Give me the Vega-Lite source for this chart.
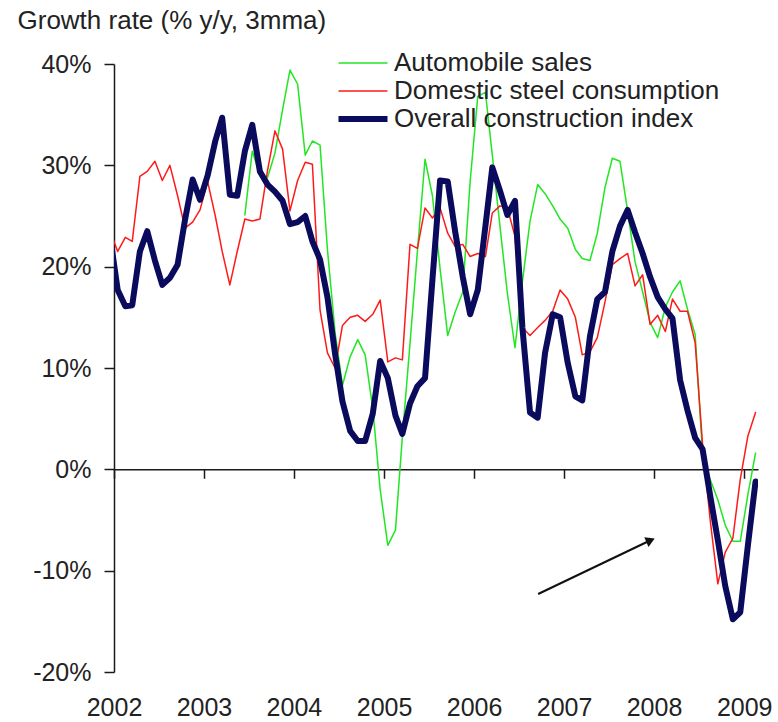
{
  "$schema": "https://vega.github.io/schema/vega-lite/v6.json",
  "width": 644,
  "height": 608,
  "autosize": {"type": "none"},
  "padding": {"left": 114, "top": 64, "right": 20, "bottom": 50},
  "background": "white",
  "config": {
    "view": {"stroke": null},
    "font": "Liberation Sans",
    "axis": {"domainColor": "#1a1a1a", "tickColor": "#1a1a1a", "labelColor": "#222222", "grid": false, "domainWidth": 1.5, "tickWidth": 1.5, "labelFont": "Liberation Sans", "titleFont": "Liberation Sans"},
    "legend": {"labelFont": "Liberation Sans"}
  },
  "datasets": {
    "series": [
      {"date": "2001-12-16", "Domestic steel consumption": 23.5, "Overall construction index": 23},
      {"date": "2002-01-16", "Domestic steel consumption": 21.5, "Overall construction index": 17.7},
      {"date": "2002-02-16", "Domestic steel consumption": 22.9, "Overall construction index": 16.1},
      {"date": "2002-03-16", "Domestic steel consumption": 22.5, "Overall construction index": 16.2},
      {"date": "2002-04-16", "Domestic steel consumption": 28.9, "Overall construction index": 21.5},
      {"date": "2002-05-16", "Domestic steel consumption": 29.4, "Overall construction index": 23.5},
      {"date": "2002-06-16", "Domestic steel consumption": 30.4, "Overall construction index": 20.6},
      {"date": "2002-07-16", "Domestic steel consumption": 28.5, "Overall construction index": 18.2},
      {"date": "2002-08-16", "Domestic steel consumption": 30.0, "Overall construction index": 18.9},
      {"date": "2002-09-16", "Domestic steel consumption": 27.0, "Overall construction index": 20.2},
      {"date": "2002-10-16", "Domestic steel consumption": 23.8, "Overall construction index": 24.6},
      {"date": "2002-11-16", "Domestic steel consumption": 24.4, "Overall construction index": 28.6},
      {"date": "2002-12-16", "Domestic steel consumption": 25.6, "Overall construction index": 26.6},
      {"date": "2003-01-16", "Domestic steel consumption": 28.4, "Overall construction index": 29.0},
      {"date": "2003-02-16", "Domestic steel consumption": 25.0, "Overall construction index": 32.4},
      {"date": "2003-03-16", "Domestic steel consumption": 21.5, "Overall construction index": 34.7},
      {"date": "2003-04-16", "Domestic steel consumption": 18.2, "Overall construction index": 27.1},
      {"date": "2003-05-16", "Domestic steel consumption": 21.5, "Overall construction index": 27.0},
      {"date": "2003-06-16", "Automobile sales": 25.1, "Domestic steel consumption": 24.7, "Overall construction index": 31.4},
      {"date": "2003-07-16", "Automobile sales": 31.4, "Domestic steel consumption": 24.5, "Overall construction index": 34.0},
      {"date": "2003-08-16", "Automobile sales": 29.0, "Domestic steel consumption": 24.7, "Overall construction index": 29.4},
      {"date": "2003-09-16", "Automobile sales": 28.8, "Domestic steel consumption": 29.5, "Overall construction index": 28.1},
      {"date": "2003-10-16", "Automobile sales": 31.2, "Domestic steel consumption": 33.4, "Overall construction index": 27.4},
      {"date": "2003-11-16", "Automobile sales": 35.5, "Domestic steel consumption": 31.6, "Overall construction index": 26.5},
      {"date": "2003-12-16", "Automobile sales": 39.4, "Domestic steel consumption": 25.5, "Overall construction index": 24.2},
      {"date": "2004-01-16", "Automobile sales": 38.0, "Domestic steel consumption": 28.5, "Overall construction index": 24.4},
      {"date": "2004-02-16", "Automobile sales": 31.0, "Domestic steel consumption": 30.3, "Overall construction index": 25.0},
      {"date": "2004-03-16", "Automobile sales": 32.4, "Domestic steel consumption": 30.1, "Overall construction index": 22.5},
      {"date": "2004-04-16", "Automobile sales": 32.0, "Domestic steel consumption": 15.7, "Overall construction index": 20.7},
      {"date": "2004-05-16", "Automobile sales": 21.7, "Domestic steel consumption": 11.5, "Overall construction index": 17.0},
      {"date": "2004-06-16", "Automobile sales": 13.5, "Domestic steel consumption": 10.0, "Overall construction index": 11.4},
      {"date": "2004-07-16", "Automobile sales": 8.3, "Domestic steel consumption": 14.2, "Overall construction index": 6.7},
      {"date": "2004-08-16", "Automobile sales": 11.1, "Domestic steel consumption": 15.0, "Overall construction index": 3.8},
      {"date": "2004-09-16", "Automobile sales": 12.8, "Domestic steel consumption": 15.2, "Overall construction index": 2.8},
      {"date": "2004-10-16", "Automobile sales": 11.3, "Domestic steel consumption": 14.6, "Overall construction index": 2.8},
      {"date": "2004-11-16", "Automobile sales": 6.0, "Domestic steel consumption": 15.3, "Overall construction index": 5.5},
      {"date": "2004-12-16", "Automobile sales": -2.0, "Domestic steel consumption": 16.7, "Overall construction index": 10.7},
      {"date": "2005-01-16", "Automobile sales": -7.5, "Domestic steel consumption": 10.6, "Overall construction index": 9.0},
      {"date": "2005-02-16", "Automobile sales": -6.0, "Domestic steel consumption": 11.0, "Overall construction index": 5.3},
      {"date": "2005-03-16", "Automobile sales": 3.2, "Domestic steel consumption": 10.8, "Overall construction index": 3.5},
      {"date": "2005-04-16", "Automobile sales": 12.4, "Domestic steel consumption": 22.2, "Overall construction index": 6.5},
      {"date": "2005-05-16", "Automobile sales": 21.5, "Domestic steel consumption": 21.8, "Overall construction index": 8.2},
      {"date": "2005-06-16", "Automobile sales": 30.6, "Domestic steel consumption": 25.8, "Overall construction index": 9.0},
      {"date": "2005-07-16", "Automobile sales": 27.0, "Domestic steel consumption": 24.8, "Overall construction index": 18.7},
      {"date": "2005-08-16", "Automobile sales": 19.8, "Domestic steel consumption": 25.8, "Overall construction index": 28.5},
      {"date": "2005-09-16", "Automobile sales": 13.2, "Domestic steel consumption": 23.3, "Overall construction index": 28.4},
      {"date": "2005-10-16", "Automobile sales": 15.5, "Domestic steel consumption": 22.0, "Overall construction index": 23.5},
      {"date": "2005-11-16", "Automobile sales": 17.5, "Domestic steel consumption": 22.2, "Overall construction index": 19.0},
      {"date": "2005-12-16", "Automobile sales": 28.4, "Domestic steel consumption": 21.0, "Overall construction index": 15.3},
      {"date": "2006-01-16", "Automobile sales": 36.8, "Domestic steel consumption": 21.3, "Overall construction index": 17.7},
      {"date": "2006-02-16", "Automobile sales": 37.2, "Domestic steel consumption": 21.0, "Overall construction index": 24.0},
      {"date": "2006-03-16", "Automobile sales": 31.0, "Domestic steel consumption": 25.3, "Overall construction index": 29.8},
      {"date": "2006-04-16", "Automobile sales": 24.0, "Domestic steel consumption": 26.0, "Overall construction index": 27.5},
      {"date": "2006-05-16", "Automobile sales": 17.4, "Domestic steel consumption": 25.8, "Overall construction index": 25.1},
      {"date": "2006-06-16", "Automobile sales": 12.0, "Domestic steel consumption": 23.0, "Overall construction index": 26.5},
      {"date": "2006-07-16", "Automobile sales": 18.5, "Domestic steel consumption": 14.0, "Overall construction index": 14.0},
      {"date": "2006-08-16", "Automobile sales": 24.5, "Domestic steel consumption": 13.2, "Overall construction index": 5.6},
      {"date": "2006-09-16", "Automobile sales": 28.1, "Domestic steel consumption": 14.0, "Overall construction index": 5.1},
      {"date": "2006-10-16", "Automobile sales": 27.2, "Domestic steel consumption": 14.7, "Overall construction index": 11.5},
      {"date": "2006-11-16", "Automobile sales": 26.0, "Domestic steel consumption": 15.6, "Overall construction index": 15.3},
      {"date": "2006-12-16", "Automobile sales": 24.7, "Domestic steel consumption": 17.7, "Overall construction index": 15.0},
      {"date": "2007-01-16", "Automobile sales": 23.8, "Domestic steel consumption": 16.8, "Overall construction index": 10.5},
      {"date": "2007-02-16", "Automobile sales": 21.7, "Domestic steel consumption": 15.0, "Overall construction index": 7.2},
      {"date": "2007-03-16", "Automobile sales": 20.8, "Domestic steel consumption": 11.3, "Overall construction index": 6.8},
      {"date": "2007-04-16", "Automobile sales": 20.6, "Domestic steel consumption": 11.6, "Overall construction index": 13.1},
      {"date": "2007-05-16", "Automobile sales": 23.3, "Domestic steel consumption": 13.0, "Overall construction index": 16.8},
      {"date": "2007-06-16", "Automobile sales": 27.8, "Domestic steel consumption": 16.5, "Overall construction index": 17.5},
      {"date": "2007-07-16", "Automobile sales": 30.7, "Domestic steel consumption": 20.2, "Overall construction index": 21.5},
      {"date": "2007-08-16", "Automobile sales": 30.4, "Domestic steel consumption": 20.8, "Overall construction index": 24.0},
      {"date": "2007-09-16", "Automobile sales": 25.5, "Domestic steel consumption": 21.3, "Overall construction index": 25.6},
      {"date": "2007-10-16", "Automobile sales": 20.5, "Domestic steel consumption": 18.1, "Overall construction index": 23.4},
      {"date": "2007-11-16", "Automobile sales": 17.5, "Domestic steel consumption": 19.2, "Overall construction index": 21.3},
      {"date": "2007-12-16", "Automobile sales": 14.5, "Domestic steel consumption": 14.3, "Overall construction index": 19.0},
      {"date": "2008-01-16", "Automobile sales": 13.0, "Domestic steel consumption": 15.2, "Overall construction index": 17.0},
      {"date": "2008-02-16", "Automobile sales": 16.0, "Domestic steel consumption": 13.6, "Overall construction index": 15.8},
      {"date": "2008-03-16", "Automobile sales": 17.5, "Domestic steel consumption": 16.8, "Overall construction index": 14.9},
      {"date": "2008-04-16", "Automobile sales": 18.6, "Domestic steel consumption": 15.6, "Overall construction index": 8.8},
      {"date": "2008-05-16", "Automobile sales": 15.8, "Domestic steel consumption": 15.6, "Overall construction index": 5.8},
      {"date": "2008-06-16", "Automobile sales": 13.3, "Domestic steel consumption": 12.5, "Overall construction index": 3.1},
      {"date": "2008-07-16", "Automobile sales": 1.5, "Domestic steel consumption": 2.5, "Overall construction index": 2.0},
      {"date": "2008-08-16", "Automobile sales": -1.0, "Domestic steel consumption": -5.0, "Overall construction index": -2.6},
      {"date": "2008-09-16", "Automobile sales": -3.0, "Domestic steel consumption": -11.3, "Overall construction index": -7.0},
      {"date": "2008-10-16", "Automobile sales": -5.5, "Domestic steel consumption": -8.2, "Overall construction index": -11.5},
      {"date": "2008-11-16", "Automobile sales": -7.1, "Domestic steel consumption": -6.8, "Overall construction index": -14.8},
      {"date": "2008-12-16", "Automobile sales": -7.1, "Domestic steel consumption": -1.0, "Overall construction index": -14.1},
      {"date": "2009-01-16", "Automobile sales": -2.5, "Domestic steel consumption": 3.3, "Overall construction index": -7.5},
      {"date": "2009-02-16", "Automobile sales": 1.6, "Domestic steel consumption": 5.6, "Overall construction index": -1.2}
    ],
    "arrow": [
      {"date": "2006-09-18", "value": -12.3, "date2": "2007-12-18", "value2": -7.0}
    ],
    "arrowhead": [
      {"date": "2007-12-18", "value": -7.0}
    ]
  },
  "encoding": {
    "x": {
      "field": "date",
      "type": "temporal",
      "scale": {"domain": [{"year": 2002, "month": 1, "date": 1}, {"year": 2009, "month": 2, "date": 26}]},
      "axis": {
        "orient": "bottom",
        "offset": -202.7,
        "values": [{"year": 2002}, {"year": 2003}, {"year": 2004}, {"year": 2005}, {"year": 2006}, {"year": 2007}, {"year": 2008}, {"year": 2009}],
        "format": "%Y",
        "tickSize": 9,
        "labelPadding": 217,
        "labelFontSize": 25,
        "labelFlush": false,
        "labelOverlap": false,
        "title": null
      }
    },
    "y": {
      "field": "value",
      "type": "quantitative",
      "scale": {"domain": [-20, 40], "nice": false, "zero": false},
      "axis": {
        "values": [-20, -10, 0, 10, 20, 30, 40],
        "labelExpr": "datum.value + '%'",
        "tickSize": 10,
        "labelPadding": 13,
        "labelFontSize": 25,
        "title": "Growth rate (% y/y, 3mma)",
        "titleAngle": 0,
        "titleAlign": "left",
        "titleBaseline": "alphabetic",
        "titleX": -97,
        "titleY": -35.5,
        "titleFontSize": 26,
        "titleFontWeight": "normal",
        "titleColor": "#222222"
      }
    }
  },
  "layer": [
    {
      "data": {"name": "series"},
      "transform": [
        {"fold": ["Automobile sales", "Domestic steel consumption", "Overall construction index"], "as": ["key", "value"]},
        {"filter": "datum.key === 'Automobile sales' && isValid(datum.value)"}
      ],
      "mark": {"type": "line", "clip": true, "strokeWidth": 1.5, "strokeJoin": "round", "strokeCap": "round"},
      "encoding": {
        "color": {
          "field": "key", "type": "nominal",
          "scale": {"domain": ["Automobile sales", "Domestic steel consumption", "Overall construction index"], "range": ["#22e622", "#ff1a1a", "#0b0b5e"]},
          "legend": {
            "orient": "none", "legendX": 236, "legendY": -14, "title": null,
            "symbolType": "stroke", "symbolSize": 2401, "symbolStrokeWidth": 1.5,
            "labelFontSize": 26, "labelLimit": 500, "labelColor": "#222222", "labelOffset": 18, "rowPadding": 2,
            "encode": {"symbols": {"update": {"strokeWidth": {"signal": "datum.value === 'Overall construction index' ? 6 : 1.5"}}}}
          }
        }
      }
    },
    {
      "data": {"name": "series"},
      "transform": [
        {"fold": ["Automobile sales", "Domestic steel consumption", "Overall construction index"], "as": ["key", "value"]},
        {"filter": "datum.key === 'Domestic steel consumption' && isValid(datum.value)"}
      ],
      "mark": {"type": "line", "clip": true, "strokeWidth": 1.5, "strokeJoin": "round", "strokeCap": "round"},
      "encoding": {
        "color": {
          "field": "key", "type": "nominal",
          "scale": {"domain": ["Automobile sales", "Domestic steel consumption", "Overall construction index"], "range": ["#22e622", "#ff1a1a", "#0b0b5e"]},
          "legend": {
            "orient": "none", "legendX": 236, "legendY": -14, "title": null,
            "symbolType": "stroke", "symbolSize": 2401, "symbolStrokeWidth": 1.5,
            "labelFontSize": 26, "labelLimit": 500, "labelColor": "#222222", "labelOffset": 18, "rowPadding": 2,
            "encode": {"symbols": {"update": {"strokeWidth": {"signal": "datum.value === 'Overall construction index' ? 6 : 1.5"}}}}
          }
        }
      }
    },
    {
      "data": {"name": "series"},
      "transform": [
        {"fold": ["Automobile sales", "Domestic steel consumption", "Overall construction index"], "as": ["key", "value"]},
        {"filter": "datum.key === 'Overall construction index' && isValid(datum.value)"}
      ],
      "mark": {"type": "line", "clip": true, "strokeWidth": 6, "strokeJoin": "round", "strokeCap": "round"},
      "encoding": {
        "color": {
          "field": "key", "type": "nominal",
          "scale": {"domain": ["Automobile sales", "Domestic steel consumption", "Overall construction index"], "range": ["#22e622", "#ff1a1a", "#0b0b5e"]},
          "legend": {
            "orient": "none", "legendX": 236, "legendY": -14, "title": null,
            "symbolType": "stroke", "symbolSize": 2401, "symbolStrokeWidth": 1.5,
            "labelFontSize": 26, "labelLimit": 500, "labelColor": "#222222", "labelOffset": 18, "rowPadding": 2,
            "encode": {"symbols": {"update": {"strokeWidth": {"signal": "datum.value === 'Overall construction index' ? 6 : 1.5"}}}}
          }
        }
      }
    },
    {
      "data": {"name": "arrow"},
      "mark": {"type": "rule", "color": "#111111", "strokeWidth": 2},
      "encoding": {
        "x2": {"field": "date2"},
        "y2": {"field": "value2"}
      }
    },
    {
      "data": {"name": "arrowhead"},
      "mark": {"type": "point", "shape": "triangle-right", "filled": true, "color": "#111111", "opacity": 1, "size": 110, "angle": 336.5},
      "encoding": {}
    }
  ]
}
